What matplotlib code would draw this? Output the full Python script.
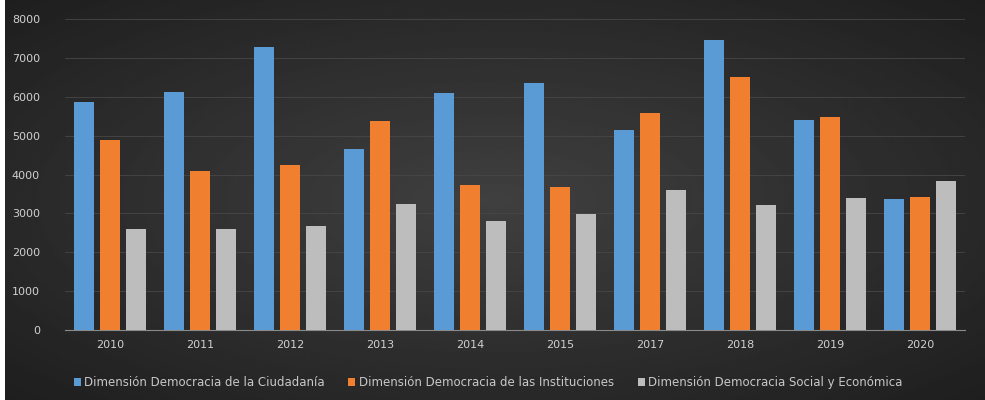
import numpy as np
import matplotlib.pyplot as plt

years = ['2010', '2011', '2012', '2013', '2014', '2015', '2017', '2018', '2019', '2020']
ciudadania = [5860, 6120, 7270, 4650, 6090, 6350, 5140, 7460, 5400, 3370]
instituciones = [4880, 4090, 4240, 5370, 3730, 3680, 5580, 6500, 5480, 3420]
social = [2600, 2600, 2670, 3240, 2800, 2980, 3600, 3210, 3390, 3830]
series_names = ['Dimensión Democracia de la Ciudadanía',
                'Dimensión Democracia de las Instituciones',
                'Dimensión Democracia Social y Económica']
colors = ['#5b9bd5', '#f07f2f', '#bdbdbd']

fig = plt.figure(figsize=(9.85, 4), dpi=100)
fig.patch.set_facecolor('white')

# fondo oscuro con degradado radial
bg = fig.add_axes([0.005, 0.0, 0.995, 1.0])
yy, xx = np.mgrid[-1:1:200j, -1:1:400j]
r = np.sqrt(xx ** 2 + yy ** 2) / np.sqrt(2)
bg.imshow(0.25 - 0.13 * r, cmap='gray', vmin=0, vmax=1, aspect='auto', extent=[0, 1, 0, 1])
bg.axis('off')

ax = fig.add_axes([0.066, 0.175, 0.914, 0.7775])
ax.set_facecolor('none')
x = np.arange(len(years))
w = 0.22
for i, (vals, name) in enumerate(zip([ciudadania, instituciones, social], series_names)):
    ax.bar(x + (i - 1) * 0.29, vals, w, color=colors[i], label=name, zorder=3)

ax.set_xlim(-0.5, len(years) - 0.5)
ax.set_ylim(0, 8000)
ax.set_yticks(range(0, 8001, 1000))
ax.set_xticks(x)
ax.set_xticklabels(years)
ax.grid(axis='y', color='#474747', linewidth=0.6, zorder=0)
for s in ['top', 'right', 'left']:
    ax.spines[s].set_visible(False)
ax.spines['bottom'].set_color('#8a8a8a')
ax.tick_params(colors='#d0d0d0', labelsize=8, length=0)
ax.tick_params(axis='y', pad=18)
ax.tick_params(axis='x', pad=7)

leg = ax.legend(loc='upper center', bbox_to_anchor=(0.47, -0.115), ncol=3, frameon=False,
                fontsize=8.5, handlelength=0.6, handleheight=0.6, handletextpad=0.3,
                columnspacing=2.0, labelcolor='#c8c8c8')

fig.savefig('out.png', dpi=100)
